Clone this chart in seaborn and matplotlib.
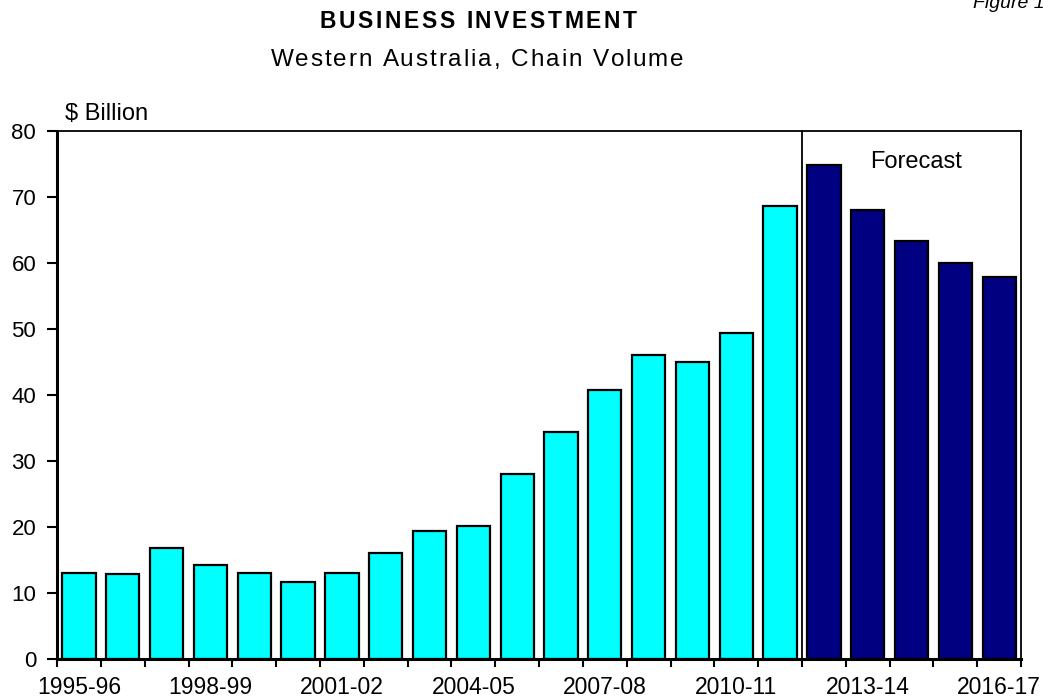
import numpy as np
import pandas as pd
import matplotlib
matplotlib.use("Agg")
import matplotlib.pyplot as plt
import seaborn as sns

years = ["1995-96", "1996-97", "1997-98", "1998-99", "1999-00", "2000-01",
         "2001-02", "2002-03", "2003-04", "2004-05", "2005-06", "2006-07",
         "2007-08", "2008-09", "2009-10", "2010-11", "2011-12", "2012-13",
         "2013-14", "2014-15", "2015-16", "2016-17"]
investment = [13.0, 12.8, 16.8, 14.3, 13.0, 11.6, 13.0, 16.1, 19.4, 20.1,
              28.0, 34.4, 40.7, 46.0, 45.0, 49.4, 68.6, 74.8, 68.0, 63.3,
              60.0, 57.9]
period = ["Actual"] * 17 + ["Forecast"] * 5
labelled_years = ["1995-96", "1998-99", "2001-02", "2004-05", "2007-08",
                  "2010-11", "2013-14", "2016-17"]

sns.set_theme(style="white")
plt.rcParams["font.family"] = ["Liberation Sans", "DejaVu Sans"]

df = pd.DataFrame({"year": years, "value": investment, "period": period})

W, H = 1043, 700
fig = plt.figure(figsize=(W / 100, H / 100), dpi=100)
ax = fig.add_axes([0.0547, 0.0586, 0.9243, 0.7544])

sns.barplot(data=df, x="year", y="value", hue="period",
            palette={"Actual": "#00FFFF", "Forecast": "#000080"},
            saturation=1, dodge=False, width=0.76, edgecolor="black",
            linewidth=1.6, legend=False, ax=ax, order=years)

n = len(years)
ax.set_xlim(-0.5, n - 0.5)
ax.set_ylim(0, 80)
ax.set_xlabel("")
ax.set_ylabel("")

# tick marks on category boundaries, labels under every third year
ax.set_xticks(np.arange(n + 1) - 0.5)
ax.set_xticklabels([])
lab_pos = [years.index(y) for y in labelled_years]
ax.set_xticks(lab_pos, minor=True)
ax.set_xticklabels(labelled_years, minor=True)
ax.tick_params(axis="x", which="major", direction="out", length=6, width=1.5,
               color="black", bottom=True)
ax.tick_params(axis="x", which="minor", length=0, pad=12, labelsize=16.5,
               labelcolor="black", bottom=True)
ax.set_yticks(np.arange(0, 81, 10))
ax.tick_params(axis="y", direction="out", length=7, width=1.5, color="black",
               left=True, labelsize=16, labelcolor="black", pad=8)

for side in ["left", "bottom"]:
    ax.spines[side].set_linewidth(2.2)
    ax.spines[side].set_color("black")
for side in ["top", "right"]:
    ax.spines[side].set_linewidth(1.3)
    ax.spines[side].set_color("black")
ax.grid(False)

# divider between actual and forecast years
split = period.index("Forecast") - 0.5
ax.axvline(split, color="black", linewidth=1.3)
ax.text(19.1, 75.3, "Forecast", ha="center", va="center", fontsize=17,
        color="black")

ax.text(0.008, 1.012, "$ Billion", transform=ax.transAxes, ha="left",
        va="bottom", fontsize=17, color="black")


def tracked_text(s, x_center, y, width, **kw):
    """Draw s centred at x_center (pixels), letter-spaced to a pixel width."""
    renderer = fig.canvas.get_renderer()

    def advance(t):
        if not t:
            return 0.0
        # bracket with markers so leading/trailing spaces are counted
        a = fig.text(0, 0, "|" + t + "|", **kw)
        b = fig.text(0, 0, "||", **kw)
        w = (a.get_window_extent(renderer).width
             - b.get_window_extent(renderer).width)
        a.remove()
        b.remove()
        return w

    natural = advance(s)
    track = (width - natural) / (len(s) - 1)
    x0 = x_center - (natural + track * (len(s) - 1)) / 2
    for i, ch in enumerate(s):
        if ch == " ":
            continue
        off = advance(s[:i])
        fig.text((x0 + off + i * track) / W, y, ch, ha="left", **kw)


tracked_text("BUSINESS INVESTMENT", 478, 0.970, 317, va="center",
             fontsize=16.5, fontweight="bold", color="black")
tracked_text("Western Australia, Chain Volume", 477, 0.914, 413, va="center",
             fontsize=17.5, color="black")

fig.text(0.933, 0.988, "Figure 1", ha="left", va="baseline", fontsize=14,
         style="italic", color="black")

fig.savefig("out.png", dpi=100)
